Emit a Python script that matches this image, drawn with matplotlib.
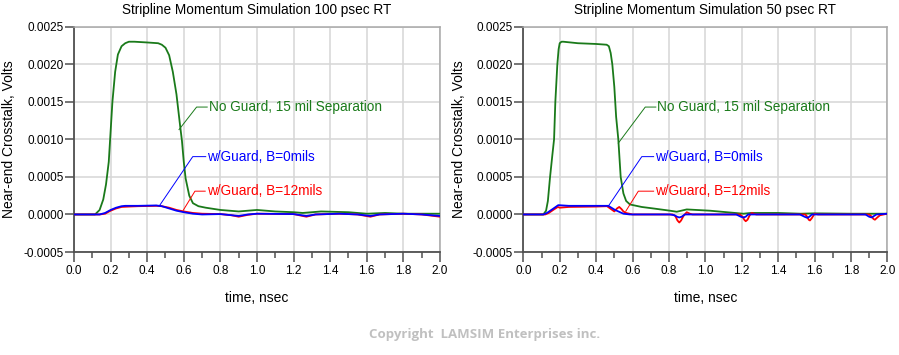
import matplotlib
matplotlib.use("Agg")
import matplotlib.pyplot as plt
from matplotlib.ticker import MultipleLocator, FormatStrFormatter

# ---------------- data (time in nsec, crosstalk in volts) ----------------
# 100 psec rise time
t_green_100 = [0.0, 0.115, 0.14, 0.16, 0.175, 0.19, 0.20, 0.21, 0.225, 0.24, 0.26, 0.28,
               0.30, 0.33, 0.40, 0.46, 0.48, 0.50, 0.52, 0.54, 0.56, 0.58, 0.59, 0.60,
               0.61, 0.63, 0.65, 0.68, 0.72, 0.80, 0.90, 1.00, 1.10, 1.20, 1.25, 1.35,
               1.50, 1.60, 1.70, 1.80, 2.00]
v_green_100 = [0.0, 0.0, 0.00006, 0.0002, 0.0004, 0.0007, 0.0011, 0.0015, 0.0019, 0.00213,
               0.00224, 0.00228, 0.0023, 0.0023, 0.00229, 0.00228, 0.00226, 0.00222,
               0.00212, 0.0019, 0.0016, 0.00118, 0.00098, 0.0007, 0.00048, 0.00025,
               0.00015, 0.00011, 0.00009, 0.00006, 0.00004, 0.00006, 0.00004, 0.00003,
               0.00002, 0.00004, 0.00003, 0.00001, 0.00002, 0.00001, 0.00001]

t_blue_100 = [0.0, 0.14, 0.17, 0.20, 0.23, 0.26, 0.28, 0.35, 0.45, 0.48, 0.52, 0.56, 0.60,
              0.65, 0.70, 0.80, 0.86, 0.90, 0.95, 1.00, 1.20, 1.27, 1.32, 1.45, 1.55,
              1.62, 1.67, 1.80, 1.90, 2.00]
v_blue_100 = [0.0, 0.0, 0.00002, 0.00006, 0.00009, 0.00011, 0.000115, 0.000115, 0.00012,
              0.00011, 0.00008, 0.00005, 0.00003, 0.00001, 0.0, 0.000005, -0.00001,
              -0.00002, 0.0, 0.00001, 0.000005, -0.00002, 0.0, 0.00001, 0.0, -0.00002,
              0.0, 0.00001, 0.0, -0.00002]

t_red_100 = [0.0, 0.14, 0.17, 0.20, 0.23, 0.26, 0.30, 0.35, 0.45, 0.48, 0.52, 0.56, 0.60,
             0.65, 0.70, 0.80, 0.86, 0.90, 0.95, 1.00, 1.20, 1.27, 1.32, 1.45, 1.55,
             1.62, 1.67, 1.80, 1.90, 2.00]
v_red_100 = [0.0, 0.0, 0.00001, 0.00005, 0.00008, 0.0001, 0.000105, 0.00011, 0.000115,
             0.00011, 0.00009, 0.00006, 0.00004, 0.00002, 0.00001, 0.000005, -0.00001,
             -0.00003, -0.000005, 0.00001, 0.000005, -0.00003, 0.0, 0.00001, 0.0,
             -0.00003, 0.0, 0.00001, 0.0, -0.00003]

# 50 psec rise time
t_green_50 = [0.0, 0.11, 0.125, 0.135, 0.147, 0.16, 0.169, 0.176, 0.187, 0.194, 0.20,
              0.21, 0.22, 0.30, 0.40, 0.458, 0.47, 0.48, 0.489, 0.50, 0.51, 0.522,
              0.535, 0.55, 0.565, 0.586, 0.65, 0.714, 0.806, 0.843, 0.898, 1.026,
              1.209, 1.25, 1.40, 1.525, 1.60, 1.80, 2.00]
v_green_50 = [0.0, 0.0, 0.00005, 0.00018, 0.0005, 0.0008, 0.001, 0.0015, 0.002, 0.0022,
              0.00228, 0.0023, 0.0023, 0.00228, 0.00227, 0.00226, 0.00224, 0.00215,
              0.002, 0.0017, 0.0013, 0.001, 0.0005, 0.00028, 0.00018, 0.000133,
              0.0001, 0.00008, 0.00005, 0.000036, 0.000067, 0.00005, 0.00001, 0.00002,
              0.00002, 0.00001, 0.000015, 0.00001, 0.00001]

t_blue_50 = [0.0, 0.11, 0.13, 0.16, 0.192, 0.25, 0.40, 0.467, 0.504, 0.55, 0.586, 0.806,
             0.83, 0.845, 0.857, 0.87, 0.888, 1.17, 1.195, 1.209, 1.222, 1.235, 1.52,
             1.545, 1.56, 1.572, 1.585, 1.88, 1.90, 1.914, 1.927, 1.94, 2.00]
v_blue_50 = [0.0, 0.0, 0.00002, 0.00007, 0.000124, 0.000115, 0.000115, 0.000115, 0.00006,
             0.00001, 0.0, 0.0, -0.00001, -0.00003, -0.00004, -0.00003, 0.0, 0.0,
             -0.00003, -0.00004, -0.00003, 0.0, 0.0, -0.00003, -0.000045, -0.00003,
             0.0, 0.0, -0.00003, -0.00004, -0.00002, 0.0, 0.00001]

t_red_50 = [0.0, 0.12, 0.14, 0.17, 0.19, 0.20, 0.25, 0.40, 0.46, 0.50, 0.515, 0.527,
            0.54, 0.55, 0.564, 0.60, 0.82, 0.835, 0.847, 0.857, 0.867, 0.88, 0.898,
            0.915, 0.93, 1.19, 1.205, 1.214, 1.222, 1.232, 1.244, 1.255, 1.28, 1.55,
            1.562, 1.568, 1.575, 1.585, 1.60, 1.62, 1.90, 1.915, 1.924, 1.932, 1.945,
            1.96, 2.00]
v_red_50 = [0.0, 0.0, 0.00002, 0.00007, 0.0001, 0.00009, 0.0001, 0.000105, 0.00011,
            0.00004, 0.00008, 0.0001, 0.00007, 0.00004, 0.00002, 0.0, 0.0, -0.00002,
            -0.00008, -0.000107, -0.00008, -0.00002, 0.00003, 0.00001, 0.0, 0.0,
            -0.00003, -0.00007, -0.00009, -0.00007, -0.00001, 0.00002, 0.0, 0.0,
            -0.00004, -0.00007, -0.00008, -0.00005, 0.00001, 0.0, 0.0, -0.00003,
            -0.00006, -0.00007, -0.00004, -0.00001, 0.00001]

titles = ["Stripline Momentum Simulation 100 psec RT",
          "Stripline Momentum Simulation 50 psec RT"]
labels = ["No Guard, 15 mil Separation", "w/Guard, B=0mils", "w/Guard, B=12mils"]
xlabel = "time, nsec"
ylabel = "Near-end Crosstalk, Volts"
copyright_text = "Copyright  LAMSIM Enterprises inc."

# ---------------- style / layout ----------------
GREEN = "#1a7a1a"
BLUE = "#0000ff"
RED = "#ff0000"
FONT = ["Liberation Sans", "DejaVu Sans"]
plt.rcParams["font.family"] = FONT

fig = plt.figure(figsize=(8.99, 3.55), dpi=100)
axes_rects = [[0.0823, 0.2901, 0.4071, 0.6347], [0.5821, 0.2901, 0.4049, 0.6347]]

# annotation layout: (text xy, elbow xy, curve xy) in data coords
ann_layout = [
    [((0.736, 0.00147), (0.670, 0.00143), (0.574, 0.00113)),
     ((0.728, 0.00082), (0.649, 0.00077), (0.466, 0.000113)),
     ((0.725, 0.00035), (0.661, 0.00031), (0.597, 0.000056))],
    [((0.736, 0.00147), (0.670, 0.00143), (0.522, 0.00095)),
     ((0.724, 0.00082), (0.651, 0.00077), (0.467, 0.00011)),
     ((0.724, 0.00035), (0.632, 0.00031), (0.563, 0.000043))],
]

series = [
    [(t_green_100, v_green_100, GREEN), (t_blue_100, v_blue_100, BLUE),
     (t_red_100, v_red_100, RED)],
    [(t_green_50, v_green_50, GREEN), (t_blue_50, v_blue_50, BLUE),
     (t_red_50, v_red_50, RED)],
]

for i in range(2):
    ax = fig.add_axes(axes_rects[i])
    order = [0, 2, 1]
    for k in order:
        t, v, c = series[i][k]
        ax.plot(t, v, color=c, lw=1.3, zorder=3 + (k == 1), solid_joinstyle="round")
    for k in range(3):
        (tx, ty), (ex, ey), (cx, cy) = ann_layout[i][k]
        c = series[i][k][2]
        ax.plot([cx, ex, tx - 0.008], [cy, ey, ey], color=c, lw=0.7, zorder=5)
        ax.text(tx, ey, labels[k], color=c, fontsize=9.8, va="center", ha="left",
                zorder=6)
    ax.set_xlim(0, 2.0)
    ax.set_ylim(-0.0005, 0.0025)
    ax.xaxis.set_major_locator(MultipleLocator(0.2))
    ax.xaxis.set_minor_locator(MultipleLocator(0.1))
    ax.yaxis.set_major_locator(MultipleLocator(0.0005))
    ax.xaxis.set_major_formatter(FormatStrFormatter("%.1f"))
    ax.yaxis.set_major_formatter(FormatStrFormatter("%.4f"))
    ax.grid(True, which="major", color="#d6d6d6", lw=1.1, zorder=0)
    ax.set_axisbelow(True)
    ax.tick_params(axis="x", which="major", length=7, width=1.1, color="#505050",
                   labelsize=8.5, pad=2.5)
    ax.tick_params(axis="x", which="minor", length=4.3, width=1.1, color="#505050")
    ax.tick_params(axis="y", which="major", length=6.5, width=1.1, color="#505050",
                   labelsize=8.5, pad=1)
    for s in ["left", "bottom"]:
        ax.spines[s].set_color("#505050")
        ax.spines[s].set_linewidth(1.3)
    for s in ["top", "right"]:
        ax.spines[s].set_color("#a8a8a8")
        ax.spines[s].set_linewidth(1.1)
    ax.set_title(titles[i], fontsize=9.8, pad=9)
    ax.set_xlabel(xlabel, fontsize=10, labelpad=10)
    ax.set_ylabel(ylabel, fontsize=10, labelpad=5)

fig.text(0.539, 0.058, copyright_text, ha="center", va="center", fontsize=9.5,
         color="#c0c0c0", fontweight="bold", family=["Open Sans", "DejaVu Sans"])

fig.savefig("out.png", dpi=100)
